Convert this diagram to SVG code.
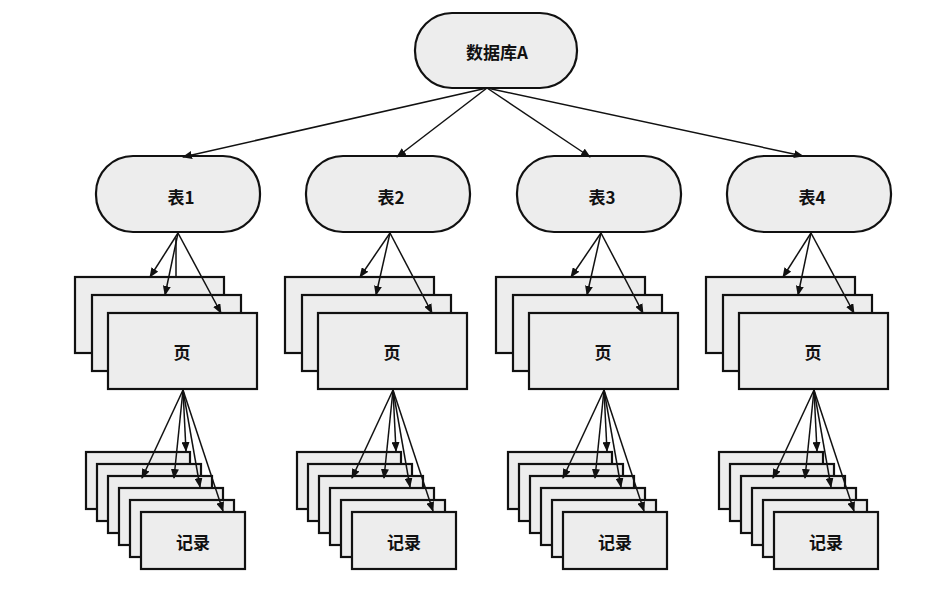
<svg xmlns="http://www.w3.org/2000/svg" width="944" height="591" viewBox="0 0 944 591">
<defs>
<style>
.n{fill:#ededed;stroke:#111;stroke-width:2.2}
.t{font-family:"Noto Sans CJK SC","Liberation Serif",serif;font-weight:bold;font-size:17px;fill:#111;text-anchor:middle;dominant-baseline:central}
.c line{stroke:#111;stroke-width:1.5}
.a{marker-end:url(#ah)}
</style>
<marker id="ah" markerWidth="10" markerHeight="8" refX="9" refY="4" orient="auto" markerUnits="userSpaceOnUse">
<path d="M0,0 L10,4 L0,8 Z" fill="#111"/>
</marker>
</defs>
<rect width="944" height="591" fill="#fff"/>
<g id="db"><rect class="n" x="415" y="13" width="162" height="75" rx="37"/><text class="t" x="497" y="51">数据库A</text></g>

<g id="t1"><rect class="n" x="96" y="156" width="164" height="76" rx="37"/><text class="t" x="181" y="196">表1</text></g>
<g id="t2"><rect class="n" x="306" y="156" width="164" height="76" rx="37"/><text class="t" x="391" y="196">表2</text></g>
<g id="t3"><rect class="n" x="517" y="156" width="164" height="76" rx="37"/><text class="t" x="602" y="196">表3</text></g>
<g id="t4"><rect class="n" x="727" y="156" width="164" height="76" rx="37"/><text class="t" x="812" y="196">表4</text></g>

<g id="p1"><rect class="n" x="75" y="277" width="149" height="76"/><rect class="n" x="92" y="295" width="149" height="76"/><rect class="n" x="108" y="313" width="149" height="76"/><text class="t" x="182" y="351">页</text></g>
<g id="p2"><rect class="n" x="285" y="277" width="149" height="76"/><rect class="n" x="302" y="295" width="149" height="76"/><rect class="n" x="318" y="313" width="149" height="76"/><text class="t" x="392" y="351">页</text></g>
<g id="p3"><rect class="n" x="496" y="277" width="149" height="76"/><rect class="n" x="513" y="295" width="149" height="76"/><rect class="n" x="529" y="313" width="149" height="76"/><text class="t" x="603" y="351">页</text></g>
<g id="p4"><rect class="n" x="706" y="277" width="149" height="76"/><rect class="n" x="723" y="295" width="149" height="76"/><rect class="n" x="739" y="313" width="149" height="76"/><text class="t" x="813" y="351">页</text></g>

<g id="r1">
<rect class="n" x="86" y="452" width="104" height="57"/><rect class="n" x="97" y="464" width="104" height="57"/><rect class="n" x="108" y="476" width="104" height="57"/><rect class="n" x="119" y="488" width="104" height="57"/><rect class="n" x="130" y="500" width="104" height="57"/><rect class="n" x="141" y="512" width="104" height="57"/><text class="t" x="193" y="541">记录</text></g>
<g id="r2">
<rect class="n" x="297" y="452" width="104" height="57"/><rect class="n" x="308" y="464" width="104" height="57"/><rect class="n" x="319" y="476" width="104" height="57"/><rect class="n" x="330" y="488" width="104" height="57"/><rect class="n" x="341" y="500" width="104" height="57"/><rect class="n" x="352" y="512" width="104" height="57"/><text class="t" x="404" y="541">记录</text></g>
<g id="r3">
<rect class="n" x="508" y="452" width="104" height="57"/><rect class="n" x="519" y="464" width="104" height="57"/><rect class="n" x="530" y="476" width="104" height="57"/><rect class="n" x="541" y="488" width="104" height="57"/><rect class="n" x="552" y="500" width="104" height="57"/><rect class="n" x="563" y="512" width="104" height="57"/><text class="t" x="615" y="541">记录</text></g>
<g id="r4">
<rect class="n" x="719" y="452" width="104" height="57"/><rect class="n" x="730" y="464" width="104" height="57"/><rect class="n" x="741" y="476" width="104" height="57"/><rect class="n" x="752" y="488" width="104" height="57"/><rect class="n" x="763" y="500" width="104" height="57"/><rect class="n" x="774" y="512" width="104" height="57"/><text class="t" x="826" y="541">记录</text></g>

<g id="connectors" class="c">
<line class="a" x1="487" y1="88" x2="183" y2="157"/>
<line class="a" x1="487" y1="88" x2="397" y2="157"/>
<line class="a" x1="487" y1="88" x2="590" y2="157"/>
<line class="a" x1="487" y1="88" x2="803" y2="156"/>

<line class="a" x1="178" y1="233" x2="150" y2="277"/>
<line class="a" x1="178" y1="233" x2="165" y2="295"/>
<line class="a" x1="178" y1="233" x2="221" y2="313"/>
<line x1="176" y1="238" x2="176" y2="277"/>
<line class="a" x1="390" y1="233" x2="360" y2="277"/>
<line class="a" x1="390" y1="233" x2="376" y2="295"/>
<line class="a" x1="390" y1="233" x2="432" y2="313"/>
<line class="a" x1="601" y1="233" x2="571" y2="277"/>
<line class="a" x1="601" y1="233" x2="587" y2="295"/>
<line class="a" x1="601" y1="233" x2="643" y2="313"/>
<line class="a" x1="811" y1="233" x2="783" y2="277"/>
<line class="a" x1="811" y1="233" x2="798" y2="295"/>
<line class="a" x1="811" y1="233" x2="854" y2="313"/>

<line class="a" x1="183" y1="390" x2="142" y2="478"/>
<line class="a" x1="183" y1="390" x2="174" y2="478"/>
<line class="a" x1="183" y1="390" x2="186" y2="451"/>
<line class="a" x1="183" y1="390" x2="200" y2="487"/>
<line class="a" x1="183" y1="390" x2="223" y2="511"/>
<line class="a" x1="393" y1="390" x2="352" y2="478"/>
<line class="a" x1="393" y1="390" x2="384" y2="478"/>
<line class="a" x1="393" y1="390" x2="396" y2="451"/>
<line class="a" x1="393" y1="390" x2="410" y2="487"/>
<line class="a" x1="393" y1="390" x2="433" y2="511"/>
<line class="a" x1="604" y1="390" x2="563" y2="478"/>
<line class="a" x1="604" y1="390" x2="595" y2="478"/>
<line class="a" x1="604" y1="390" x2="607" y2="451"/>
<line class="a" x1="604" y1="390" x2="621" y2="487"/>
<line class="a" x1="604" y1="390" x2="644" y2="511"/>
<line class="a" x1="814" y1="390" x2="773" y2="478"/>
<line class="a" x1="814" y1="390" x2="805" y2="478"/>
<line class="a" x1="814" y1="390" x2="817" y2="451"/>
<line class="a" x1="814" y1="390" x2="831" y2="487"/>
<line class="a" x1="814" y1="390" x2="854" y2="511"/>
</g>
</svg>
